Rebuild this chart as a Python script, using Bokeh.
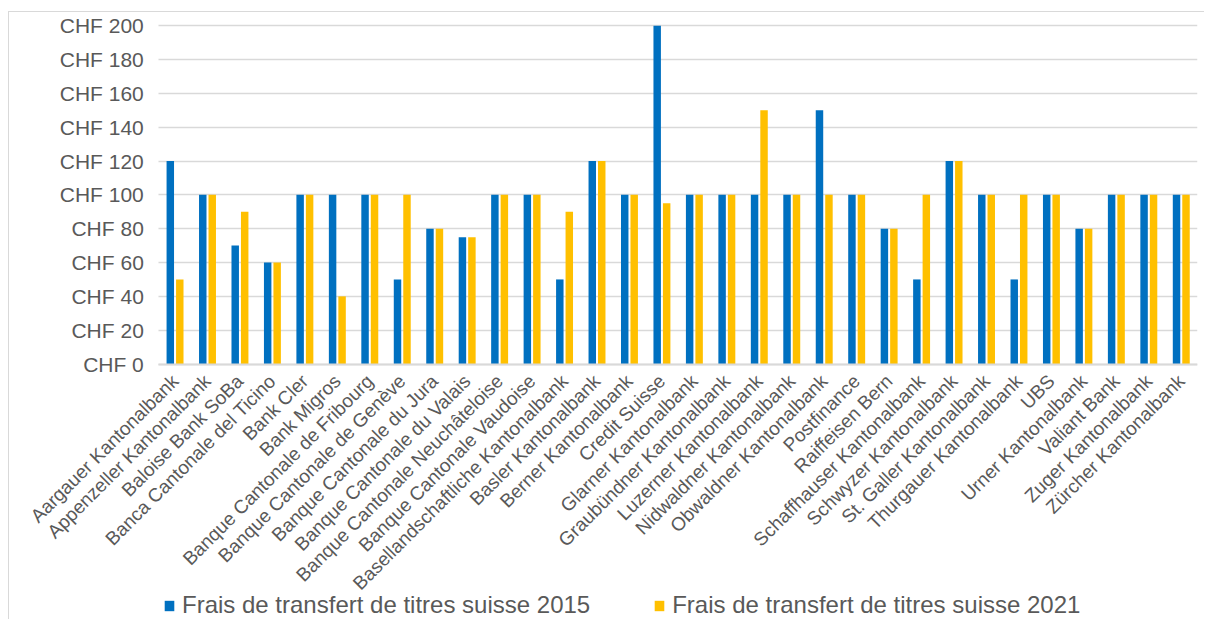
import math
from bokeh.plotting import figure
from bokeh.models import (ColumnDataSource, Range1d, Legend, LegendItem,
                          FixedTicker, PrintfTickFormatter)
from bokeh.transform import dodge
from bokeh.embed import file_html
from bokeh.resources import INLINE

banks = [
    "Aargauer Kantonalbank", "Appenzeller Kantonalbank", "Baloise Bank SoBa",
    "Banca Cantonale del Ticino", "Bank Cler", "Bank Migros",
    "Banque Cantonale de Fribourg", "Banque Cantonale de Genève",
    "Banque Cantonale du Jura", "Banque Cantonale du Valais",
    "Banque Cantonale Neuchâteloise", "Banque Cantonale Vaudoise",
    "Basellandschaftliche Kantonalbank", "Basler Kantonalbank",
    "Berner Kantonalbank", "Credit Suisse", "Glarner Kantonalbank",
    "Graubündner Kantonalbank", "Luzerner Kantonalbank",
    "Nidwaldner Kantonalbank", "Obwaldner Kantonalbank", "Postfinance",
    "Raiffeisen Bern", "Schaffhauser Kantonalbank", "Schwyzer Kantonalbank",
    "St. Galler Kantonalbank", "Thurgauer Kantonalbank", "UBS",
    "Urner Kantonalbank", "Valiant Bank", "Zuger Kantonalbank",
    "Zürcher Kantonalbank",
]
fees_2015 = [120, 100, 70, 60, 100, 100, 100, 50, 80, 75, 100, 100, 50, 120,
             100, 200, 100, 100, 100, 100, 150, 100, 80, 50, 120, 100, 50, 100,
             80, 100, 100, 100]
fees_2021 = [50, 100, 90, 60, 100, 40, 100, 100, 80, 75, 100, 100, 90, 120,
             100, 95, 100, 100, 150, 100, 100, 100, 80, 100, 120, 100, 100, 100,
             80, 100, 100, 100]
y_ticks = [0, 20, 40, 60, 80, 100, 120, 140, 160, 180, 200]
label_2015 = "Frais de transfert de titres suisse 2015"
label_2021 = "Frais de transfert de titres suisse 2021"

FONT = "Liberation Sans"
TXT = "#595959"
GRID = "#D9D9D9"
BLUE = "#0070C0"
YELLOW = "#FFC000"

idx = list(range(len(banks)))
src = ColumnDataSource(dict(idx=idx, bank=banks, v2015=fees_2015, v2021=fees_2021))
n = len(banks)

# frame extends left (for the value labels), a little above 200 and below zero
# (for the rotated category labels and the legend); axes are pinned inside it
p = figure(x_range=Range1d(-5.1, n - 0.5), y_range=Range1d(-151, 206),
           frame_width=1188, frame_height=604, output_backend="svg",
           toolbar_location=None,
           min_border_left=0, min_border_right=7, min_border_top=3,
           min_border_bottom=0)
p.styles = {"border-left": "1px solid #D9D9D9", "border-top": "1px solid #D9D9D9",
            "margin-left": "8px", "margin-top": "11px"}
p.outline_line_color = None
p.background_fill_color = "white"
p.border_fill_color = "white"

r1 = p.vbar(x=dodge("idx", -0.146), top="v2015", width=0.23,
            source=src, fill_color=BLUE, line_color=None)
r2 = p.vbar(x=dodge("idx", 0.146), top="v2021", width=0.23,
            source=src, fill_color=YELLOW, line_color=None)

p.xgrid.grid_line_color = None
p.ygrid.grid_line_color = GRID
p.ygrid.grid_line_width = 1.5
p.ygrid.ticker = FixedTicker(ticks=y_ticks)
ygrid = p.ygrid[0]
if "cross_bounds" in ygrid.properties():
    ygrid.cross_bounds = (-0.5, n - 0.5)

p.yaxis.fixed_location = -0.5
p.yaxis.ticker = FixedTicker(ticks=y_ticks)
p.yaxis.formatter = PrintfTickFormatter(format="CHF %d")
p.yaxis.axis_line_color = None
p.yaxis.major_tick_line_color = None
p.yaxis.minor_tick_line_color = None
p.yaxis.major_tick_out = 0
p.yaxis.major_tick_in = 0
p.yaxis.major_label_standoff = 15
p.yaxis.major_label_text_font = FONT
p.yaxis.major_label_text_font_size = "21px"
p.yaxis.major_label_text_color = TXT

p.xaxis.fixed_location = 0
p.xaxis.bounds = (-0.5, n - 0.5)
p.xaxis.ticker = FixedTicker(ticks=idx)
p.xaxis.major_label_overrides = {i: b for i, b in zip(idx, banks)}
p.xaxis.axis_line_color = GRID
p.xaxis.axis_line_width = 2
p.xaxis.major_tick_line_color = None
p.xaxis.minor_tick_line_color = None
p.xaxis.major_tick_out = 0
p.xaxis.major_tick_in = 0
p.xaxis.major_label_orientation = math.pi / 4
p.xaxis.major_label_standoff = 14
p.xaxis.major_label_text_font = FONT
p.xaxis.major_label_text_font_size = "19px"
p.xaxis.major_label_text_color = TXT

legend = Legend(items=[LegendItem(label=label_2015, renderers=[r1]),
                       LegendItem(label=label_2021, renderers=[r2])],
                orientation="horizontal", location=(154, 0),
                glyph_width=12, glyph_height=13, label_standoff=7, spacing=63,
                padding=0, margin=0, border_line_color=None,
                background_fill_alpha=0,
                label_text_font=FONT, label_text_font_size="24px",
                label_text_color=TXT, label_height=20)
p.add_layout(legend, "center")

open("out.html", "w").write(file_html(p, INLINE))
